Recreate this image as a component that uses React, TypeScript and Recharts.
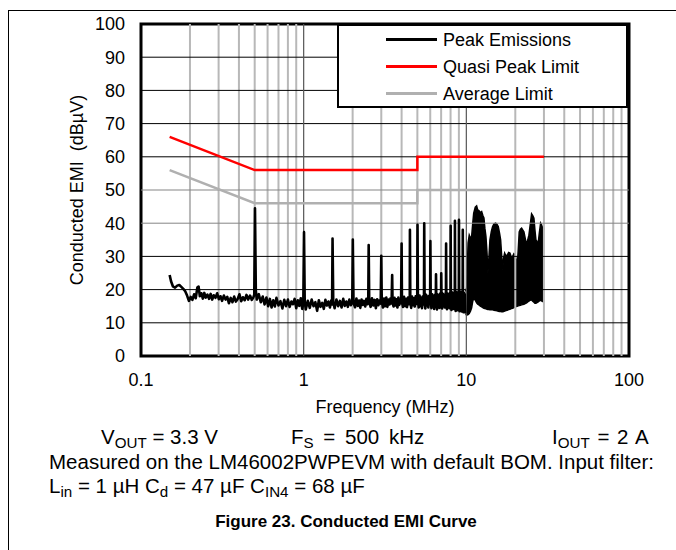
import React from 'react'
import {
  ComposedChart,
  Line,
  Area,
  XAxis,
  YAxis,
  ReferenceLine,
  ReferenceArea,
  Legend,
} from 'recharts'

const FONT = '"Liberation Sans", Arial, sans-serif'

// axes
const freqTicks = [0.1, 1, 10, 100]
const levelTicks = [0, 10, 20, 30, 40, 50, 60, 70, 80, 90, 100]
const minorFreqs = [
  0.2, 0.3, 0.4, 0.5, 0.6, 0.7, 0.8, 0.9, 2, 3, 4, 5, 6, 7, 8, 9, 20, 30, 40, 50, 60, 70, 80, 90,
]
const decadeFreqs = [1, 10]
const levelLines = [10, 20, 30, 40, 50, 60, 70, 80, 90]
const greyLevelLines = [40, 50]

// limits (MHz, dBuV)
const quasiPeakFreq = [0.15, 0.5, 5, 5, 30]
const quasiPeakLimit = [66, 56, 56, 60, 60]
const averageFreq = [0.15, 0.5, 5, 5, 30]
const averageLimit = [56, 46, 46, 50, 50]

const legendNames = ['Peak Emissions', 'Quasi Peak Limit', 'Average Limit']

// peak emissions trace, 150 kHz .. 1 MHz  [MHz, dBuV]
const traceLow: [number, number][] = [
  [0.15, 24.4], [0.153, 22.5], [0.157, 21.0], [0.162, 20.6], [0.167, 21.2], [0.172, 21.4],
  [0.177, 20.8], [0.182, 20.2], [0.187, 19.5], [0.192, 18.2], [0.197, 16.6], [0.202, 17.8],
  [0.207, 16.9], [0.212, 18.6], [0.217, 17.4], [0.222, 20.6], [0.226, 20.9], [0.23, 18.0],
  [0.235, 18.9], [0.24, 17.3], [0.245, 19.0], [0.25, 17.6], [0.256, 18.5], [0.262, 17.2],
  [0.268, 18.7], [0.274, 17.0], [0.28, 18.3], [0.287, 17.5], [0.294, 18.9], [0.301, 17.1],
  [0.308, 18.0], [0.315, 16.6], [0.323, 18.2], [0.331, 17.0], [0.339, 17.8], [0.347, 15.9],
  [0.356, 17.5], [0.365, 16.2], [0.374, 17.9], [0.383, 16.4], [0.393, 17.2], [0.403, 18.6],
  [0.413, 16.5], [0.423, 17.7], [0.434, 16.8], [0.445, 18.4], [0.456, 17.0], [0.468, 18.2],
  [0.48, 16.9], [0.49, 17.6], [0.497, 18.5], [0.502, 44.5], [0.508, 19.8], [0.515, 17.0],
  [0.525, 18.4], [0.53, 18.6], [0.545, 16.2], [0.56, 17.9], [0.575, 15.5], [0.59, 17.6],
  [0.605, 15.0], [0.62, 17.2], [0.635, 14.6], [0.65, 16.8], [0.665, 14.9], [0.68, 17.5],
  [0.7, 15.2], [0.72, 16.5], [0.74, 14.3], [0.76, 16.9], [0.78, 15.0], [0.8, 17.0],
  [0.82, 14.8], [0.84, 16.4], [0.86, 15.6], [0.88, 17.2], [0.9, 14.4], [0.92, 16.8],
  [0.94, 15.1], [0.96, 17.4], [0.98, 14.2], [0.995, 16.0],
]

// 1 MHz .. 10 MHz, harmonics of the 500 kHz switching frequency
const traceMid: [number, number][] = [
  [1.005, 37.3], [1.015, 16.5], [1.03, 14.0], [1.06, 16.6], [1.09, 14.5], [1.12, 17.0],
  [1.15, 15.0], [1.18, 16.2], [1.21, 13.6], [1.24, 16.8], [1.27, 14.8], [1.3, 16.0],
  [1.33, 14.2], [1.36, 16.9], [1.39, 15.2], [1.42, 16.4], [1.45, 14.6], [1.48, 16.8],
  [1.495, 15.5], [1.505, 35.4], [1.52, 16.2], [1.55, 14.4], [1.59, 17.0], [1.63, 15.0],
  [1.67, 16.6], [1.71, 14.6], [1.75, 17.2], [1.79, 15.1], [1.83, 16.4], [1.87, 14.8],
  [1.91, 17.0], [1.95, 15.3], [1.99, 16.2], [2.005, 35.1], [2.025, 16.0], [2.07, 14.7],
  [2.11, 17.3], [2.15, 15.1], [2.19, 16.7], [2.23, 14.5], [2.27, 17.0], [2.31, 15.4],
  [2.35, 16.6], [2.39, 14.9], [2.43, 17.2], [2.47, 15.6], [2.495, 16.4], [2.51, 33.4],
  [2.53, 16.2], [2.58, 14.8], [2.63, 17.4], [2.68, 15.2], [2.73, 16.9], [2.78, 14.4],
  [2.83, 17.1], [2.88, 15.3], [2.93, 16.8], [2.975, 15.8], [3.0, 30.2], [3.02, 16.6],
  [3.07, 14.6], [3.12, 17.3], [3.17, 15.0], [3.22, 17.6], [3.27, 14.8], [3.32, 17.0],
  [3.37, 15.5], [3.42, 17.4], [3.47, 15.8], [3.5, 24.4], [3.52, 16.0], [3.57, 14.9],
  [3.62, 17.5], [3.67, 15.2], [3.72, 17.1], [3.77, 14.6], [3.82, 17.6], [3.87, 15.4],
  [3.92, 17.0], [3.97, 15.9], [4.0, 33.9], [4.02, 16.3], [4.08, 14.8], [4.14, 17.8],
  [4.2, 15.0], [4.26, 17.2], [4.32, 14.7], [4.38, 17.6], [4.44, 15.6], [4.49, 16.9],
  [4.5, 38.0], [4.525, 16.4], [4.58, 14.5], [4.64, 17.9], [4.7, 15.3], [4.76, 17.4],
  [4.82, 14.9], [4.88, 18.0], [4.95, 15.7], [4.99, 17.2], [5.01, 39.5], [5.04, 16.6],
  [5.1, 14.6], [5.16, 18.2], [5.22, 15.0], [5.28, 17.5], [5.34, 14.4], [5.4, 18.0],
  [5.46, 15.5], [5.49, 17.1], [5.51, 40.0], [5.54, 16.2], [5.6, 14.3], [5.66, 18.4],
  [5.72, 15.2], [5.78, 17.8], [5.84, 14.6], [5.9, 18.1], [5.96, 15.8], [5.99, 17.4],
  [6.01, 34.6], [6.04, 16.5], [6.1, 14.4], [6.16, 18.6], [6.22, 15.0], [6.28, 18.0],
  [6.34, 14.2], [6.4, 18.4], [6.46, 15.6], [6.49, 17.2], [6.51, 24.6], [6.54, 16.4],
  [6.6, 14.0], [6.66, 18.5], [6.72, 15.1], [6.78, 18.2], [6.84, 14.5], [6.9, 18.8],
  [6.96, 15.9], [6.99, 17.6], [7.01, 24.9], [7.04, 16.8], [7.1, 14.3], [7.17, 18.7],
  [7.24, 15.0], [7.31, 18.3], [7.38, 14.6], [7.45, 18.9], [7.49, 16.4], [7.51, 33.9],
  [7.54, 16.0], [7.6, 14.1], [7.67, 18.8], [7.74, 15.2], [7.81, 18.4], [7.88, 14.4],
  [7.95, 19.0], [7.99, 16.6], [8.01, 39.2], [8.04, 16.2], [8.1, 13.9], [8.17, 19.2],
  [8.24, 15.0], [8.31, 18.6], [8.38, 14.2], [8.45, 19.1], [8.49, 16.8], [8.51, 40.7],
  [8.54, 16.0], [8.6, 13.6], [8.67, 19.3], [8.74, 14.8], [8.81, 18.8], [8.88, 13.8],
  [8.95, 19.0], [8.99, 16.5], [9.01, 41.0], [9.04, 16.2], [9.1, 13.5], [9.17, 19.4],
  [9.24, 14.6], [9.31, 18.9], [9.38, 13.4], [9.45, 19.2], [9.49, 16.4], [9.51, 38.0],
  [9.54, 15.8], [9.6, 13.2], [9.66, 19.0], [9.72, 13.8], [9.78, 18.6], [9.85, 12.8],
]

// 10 MHz .. 30 MHz the trace is too dense to resolve: [MHz, floor, top]
const traceDense: [number, number, number][] = [
  [9.9, 12.6, 19.5], [10.05, 12.3, 20.5], [10.25, 12.5, 34.0], [10.42, 12.8, 36.4],
  [10.6, 13.5, 35.5], [10.78, 14.5, 36.0], [10.95, 16.5, 40.0], [11.1, 17.4, 43.0],
  [11.35, 16.8, 44.8], [11.57, 16.0, 45.2], [11.75, 15.6, 44.0], [11.95, 15.4, 43.8],
  [12.2, 15.0, 43.2], [12.42, 14.8, 43.5], [12.62, 14.6, 42.4], [12.83, 14.4, 41.6],
  [13.0, 14.3, 38.5], [13.2, 14.2, 36.0], [13.4, 14.1, 31.0], [13.58, 14.0, 25.0],
  [13.78, 14.0, 30.0], [13.97, 13.9, 35.0], [14.25, 13.9, 37.5], [14.51, 13.9, 39.0],
  [14.8, 13.8, 39.8], [15.14, 13.7, 40.0], [15.45, 13.6, 39.6], [15.71, 13.5, 39.0],
  [16.0, 13.4, 37.0], [16.25, 13.4, 35.0], [16.5, 13.3, 30.0], [16.72, 13.3, 26.0],
  [16.95, 13.4, 29.5], [17.2, 13.5, 31.0], [17.5, 13.7, 30.2], [17.84, 13.8, 30.4],
  [18.2, 14.0, 31.2], [18.53, 14.1, 31.0], [18.9, 14.3, 29.8], [19.26, 14.4, 30.0],
  [19.6, 14.6, 30.8], [19.98, 14.8, 30.4], [20.25, 14.9, 29.0], [20.55, 15.0, 27.0],
  [20.85, 15.1, 32.0], [21.14, 15.2, 37.4], [21.5, 15.3, 38.2], [21.87, 15.4, 38.5],
  [22.2, 15.5, 38.0], [22.59, 15.6, 37.4], [23.0, 15.8, 35.5], [23.47, 16.0, 33.4],
  [23.85, 16.3, 35.0], [24.25, 16.5, 36.4], [24.7, 16.8, 39.5], [25.19, 16.9, 42.8],
  [25.6, 16.5, 42.3], [26.03, 16.2, 41.5], [26.4, 15.9, 38.0], [26.78, 15.9, 35.0],
  [27.2, 16.1, 34.5], [27.66, 16.3, 34.0], [28.1, 16.6, 37.0], [28.62, 16.8, 40.0],
  [29.0, 16.6, 39.5], [29.44, 16.4, 38.5], [29.9, 16.4, 38.5], [30.0, 16.4, 38.0],
]

const traceData = [...traceLow, ...traceMid].map(([f, v]) => ({ f, v }))
const denseData = traceDense.map(([f, lo, hi]) => ({ f, range: [lo, hi] }))
const quasiData = quasiPeakFreq.map((f, i) => ({ f, v: quasiPeakLimit[i] }))
const averageData = averageFreq.map((f, i) => ({ f, v: averageLimit[i] }))

const tickStyle = { fontSize: 18, fill: '#000', fontFamily: FONT }

function EmiLegend({ payload }: any) {
  const items = [...(payload || [])]
    .filter((p) => legendNames.includes(p.value))
    .sort((a, b) => legendNames.indexOf(a.value) - legendNames.indexOf(b.value))
  return (
    <div
      style={{
        boxSizing: 'border-box',
        width: 291,
        height: 84,
        border: '2px solid #000',
        background: '#fff',
        fontFamily: FONT,
        fontSize: 18,
      }}
    >
      {items.map((item) => (
        <div key={item.value} style={{ display: 'flex', alignItems: 'center', height: 27 }}>
          <div style={{ width: 51, height: 3, background: item.color, marginLeft: 47 }} />
          <span style={{ marginLeft: 6, lineHeight: '20px' }}>{item.value}</span>
        </div>
      ))}
    </div>
  )
}

// subscript shifted without growing the line box
const sub = { fontSize: '0.74em', position: 'relative' as const, top: '0.25em', lineHeight: 1 }
const row = { position: 'absolute' as const, fontSize: 20.5, lineHeight: '20px', whiteSpace: 'pre' as const }

export default function App() {
  return (
    <div style={{ position: 'absolute', left: 0, top: 0, width: 676, height: 550, background: '#fff', overflow: 'hidden', fontFamily: FONT }}>
      <div style={{ position: 'absolute', left: 8, top: 10, width: 700, height: 600, borderTop: '1px solid #000', borderLeft: '1px solid #000' }} />

      <div style={{ position: 'absolute', left: 0, top: 0 }}>
        <ComposedChart width={676} height={420} margin={{ top: 24, right: 47, bottom: 34, left: 0 }}>
          <XAxis
            dataKey="f"
            type="number"
            scale="log"
            domain={[0.1, 100]}
            ticks={freqTicks}
            interval={0}
            allowDataOverflow
            tickLine={false}
            axisLine={false}
            tickSize={0}
            tickMargin={17}
            height={30}
            tick={tickStyle}
          />
          <YAxis
            type="number"
            domain={[0, 100]}
            ticks={levelTicks}
            interval={0}
            tickLine={false}
            axisLine={false}
            tickSize={0}
            tickMargin={16}
            width={141}
            tick={tickStyle}
          />
          {minorFreqs.map((f) => (
            <ReferenceLine key={'m' + f} x={f} stroke="#b8b8b8" strokeWidth={2} />
          ))}
          {levelLines.map((v) => (
            <ReferenceLine
              key={'h' + v}
              y={v}
              stroke={greyLevelLines.includes(v) ? '#858585' : '#000'}
              strokeWidth={1}
            />
          ))}
          {decadeFreqs.map((f) => (
            <ReferenceLine key={'d' + f} x={f} stroke="#555" strokeWidth={1.2} />
          ))}
          <Line
            data={averageData}
            dataKey="v"
            name="Average Limit"
            stroke="#b0b0b0"
            strokeWidth={2.5}
            dot={false}
            type="linear"
            isAnimationActive={false}
          />
          <Line
            data={quasiData}
            dataKey="v"
            name="Quasi Peak Limit"
            stroke="#ff0000"
            strokeWidth={2.5}
            dot={false}
            type="linear"
            isAnimationActive={false}
          />
          <Area
            data={denseData}
            dataKey="range"
            legendType="none"
            stroke="#000"
            strokeWidth={1.5}
            fill="#000"
            fillOpacity={1}
            type="linear"
            isAnimationActive={false}
          />
          <Line
            data={traceData}
            dataKey="v"
            name="Peak Emissions"
            stroke="#000"
            strokeWidth={2.6}
            strokeLinejoin="round"
            dot={false}
            type="linear"
            isAnimationActive={false}
          />
          <ReferenceArea
            x1={0.1}
            x2={100}
            y1={0}
            y2={100}
            fill="none"
            fillOpacity={0}
            stroke="#000"
            strokeWidth={3}
            ifOverflow="visible"
          />
          <Legend
            layout="vertical"
            align="center"
            verticalAlign="middle"
            content={EmiLegend}
            wrapperStyle={{ left: 337, top: 24, width: 291, height: 84 }}
          />
        </ComposedChart>
      </div>

      <div
        style={{
          position: 'absolute',
          left: 77,
          top: 190,
          transform: 'translate(-50%, -50%) rotate(-90deg)',
          whiteSpace: 'pre',
          fontSize: 18,
        }}
      >
        Conducted EMI  (dBµV)
      </div>
      <div style={{ position: 'absolute', left: 385, top: 407, transform: 'translate(-50%, -50%)', fontSize: 18, whiteSpace: 'pre' }}>
        Frequency (MHz)
      </div>

      <div style={{ ...row, top: 427, left: 101 }}>
        V<span style={sub}>OUT</span> = 3.3 V
      </div>
      <div style={{ ...row, top: 427, left: 291, wordSpacing: 4 }}>
        F<span style={sub}>S</span> = 500 kHz
      </div>
      <div style={{ ...row, top: 427, left: 552, wordSpacing: 2 }}>
        I<span style={sub}>OUT</span> = 2 A
      </div>
      <div style={{ ...row, top: 452, left: 49 }}>
        Measured on the LM46002PWPEVM with default BOM. Input filter:
      </div>
      <div style={{ ...row, top: 476, left: 49 }}>
        L<span style={sub}>in</span> = 1 µH C<span style={sub}>d</span> = 47 µF C<span style={sub}>IN4</span> = 68 µF
      </div>
      <div style={{ position: 'absolute', top: 512, left: 346, transform: 'translateX(-50%)', fontSize: 17, fontWeight: 'bold', lineHeight: '20px', whiteSpace: 'pre' }}>
        Figure 23. Conducted EMI Curve
      </div>
    </div>
  )
}
